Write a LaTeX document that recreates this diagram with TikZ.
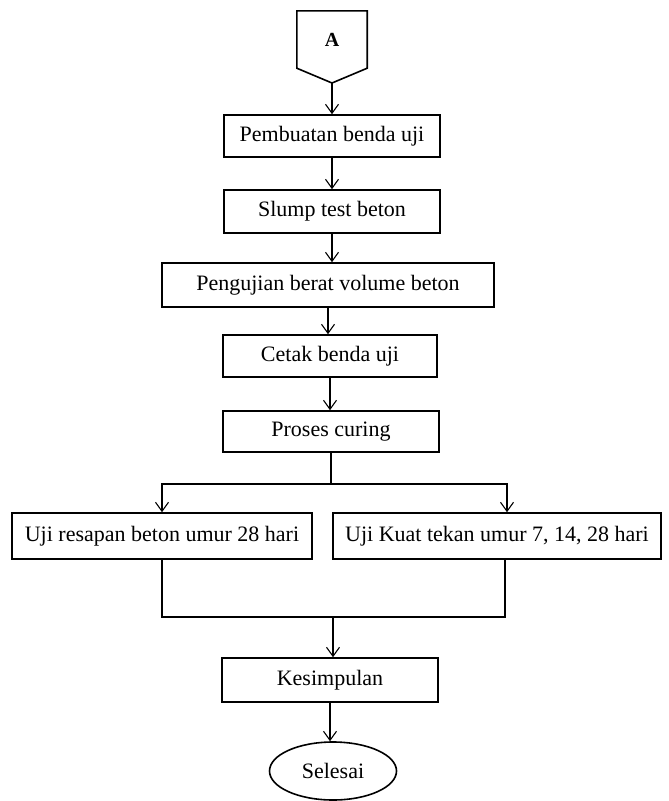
\documentclass[tikz,border=0pt]{standalone}
\usepackage{fontspec}
\setmainfont{Liberation Serif}
\usetikzlibrary{arrows.meta,shapes.geometric}
\begin{document}
\begin{tikzpicture}[x=1pt,y=-1pt,
  font=\fontsize{22}{26}\selectfont,
  boxstyle/.style={draw, line width=1.6pt, inner sep=0pt, align=center},
  flowline/.style={line width=1.3pt},
  arrowline/.style={line width=1.3pt, -{Straight Barb[length=9pt,width=13pt,line width=1.1pt]}}]
\useasboundingbox (0,0) rectangle (669,801);
% off-page connector A
\node[inner sep=0pt, minimum width=70pt, minimum height=57pt, font=\fontsize{20}{24}\selectfont\bfseries] (A) at (332,39.5) {A};
\coordinate (Atip) at (332,83);
\draw[line width=1.6pt, line join=miter] (A.south west) -- (A.north west) -- (A.north east) -- (A.south east) -- (Atip) -- cycle;
% process boxes
\node[boxstyle, minimum width=216pt, minimum height=42pt] (b1) at (332,136) {Pembuatan benda uji};
\node[boxstyle, minimum width=216pt, minimum height=43pt] (b2) at (332,211.5) {Slump test beton};
\node[boxstyle, minimum width=332pt, minimum height=44pt] (b3) at (328,285) {Pengujian berat volume beton};
\node[boxstyle, minimum width=214pt, minimum height=42pt] (b4) at (330,356) {Cetak benda uji};
\node[boxstyle, minimum width=216pt, minimum height=41pt] (b5) at (331,431.5) {Proses curing};
\node[boxstyle, minimum width=300pt, minimum height=46pt] (L) at (162,536) {Uji resapan beton umur 28 hari};
\node[boxstyle, minimum width=328pt, minimum height=46pt] (R) at (497,536) {Uji Kuat tekan umur 7, 14, 28 hari};
\node[boxstyle, minimum width=216pt, minimum height=44pt] (K) at (330,680) {Kesimpulan};
\node[draw, ellipse, line width=1.6pt, inner sep=0pt, minimum width=127pt, minimum height=58pt] (E) at (333,771) {Selesai};
% connectors
\draw[arrowline] (Atip) -- (Atip |- b1.north);
\draw[arrowline] (b1.south) -- (b1.south |- b2.north);
\draw[arrowline] (b2.south) -- (b2.south |- b3.north);
\draw[arrowline] (b3.south) -- (b3.south |- b4.north);
\draw[arrowline] (b4.south) -- (b4.south |- b5.north);
\coordinate (br) at (332,484);
\coordinate (Rin) at ([xshift=10pt]R.north);
\coordinate (Rout) at ([xshift=8pt]R.south);
\coordinate (mg) at (333,617);
\draw[flowline] (b5.south) -- (b5.south |- br);
\draw[arrowline] (br) -| (L.north);
\draw[arrowline] (br) -| (Rin);
\draw[flowline] (L.south) |- (mg) -| (Rout);
\draw[arrowline] (mg) -- (mg |- K.north);
\draw[arrowline] (K.south) -- (K.south |- E.north);
\end{tikzpicture}
\end{document}
